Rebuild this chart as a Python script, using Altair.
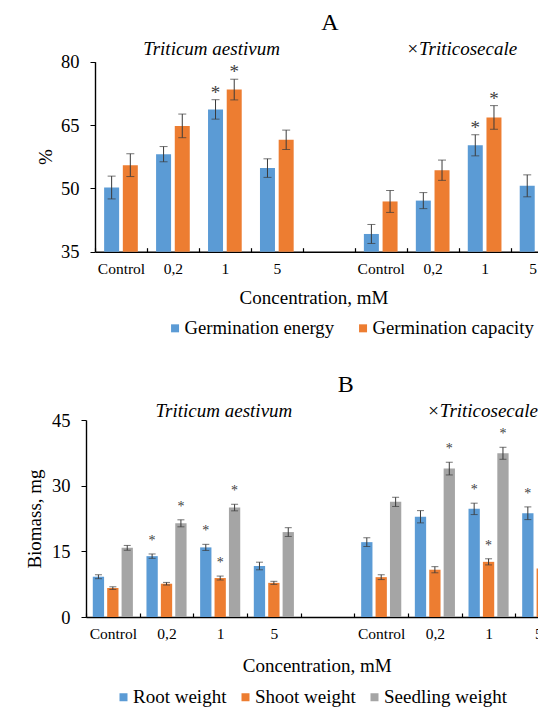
import json
import altair as alt
import pandas as pd

FONT = "Liberation Serif"

# x slots: 4 doses for each species with an empty slot between them
slot_keys = ["T:Control", "T:0,2", "T:1", "T:5", "G:", "S:Control", "S:0,2", "S:1", "S:5"]
slot_labels = [k.split(":")[1] for k in slot_keys]
doses = ["Control", "0,2", "1", "5"]
species = ["Triticum aestivum", "\u00d7Triticosecale"]
species_first_slot = ["T:Control", "S:Control"]

# ---------------- Panel A: germination (%) ----------------
germ_series = ["Germination energy", "Germination capacity"]
germ_colors = ["#5B9BD5", "#ED7D31"]

energy_ta = [50.2, 58.1, 68.7, 54.8]
energy_ta_err = [2.7, 1.8, 2.3, 2.2]
energy_ta_star = [0, 0, 1, 0]
capacity_ta = [55.5, 64.8, 73.4, 61.5]
capacity_ta_err = [2.7, 2.8, 2.45, 2.3]
capacity_ta_star = [0, 0, 1, 0]

energy_tr = [39.2, 47.1, 60.2, 50.6]
energy_tr_err = [2.25, 1.9, 2.5, 2.6]
energy_tr_star = [0, 0, 1, 0]
capacity_tr = [46.9, 54.3, 66.8, 58.0]
capacity_tr_err = [2.6, 2.4, 2.8, 2.4]
capacity_tr_star = [0, 0, 1, 0]

# ---------------- Panel B: biomass (mg) ----------------
bio_series = ["Root weight", "Shoot weight", "Seedling weight"]
bio_colors = ["#5B9BD5", "#ED7D31", "#A5A5A5"]

root_ta = [9.2, 13.9, 15.9, 11.65]
root_ta_err = [0.45, 0.5, 0.7, 0.87]
root_ta_star = [0, 1, 1, 0]
shoot_ta = [6.6, 7.6, 8.9, 7.8]
shoot_ta_err = [0.3, 0.3, 0.45, 0.35]
shoot_ta_star = [0, 0, 1, 0]
seedling_ta = [15.8, 21.4, 25.0, 19.4]
seedling_ta_err = [0.55, 0.8, 0.75, 1.0]
seedling_ta_star = [0, 1, 1, 0]

root_tr = [17.1, 22.9, 24.7, 23.7]
root_tr_err = [1.0, 1.4, 1.3, 1.45]
root_tr_star = [0, 0, 1, 1]
shoot_tr = [9.1, 10.8, 12.6, 11.1]
shoot_tr_err = [0.55, 0.7, 0.7, 0.6]
shoot_tr_star = [0, 0, 1, 0]
seedling_tr = [26.3, 33.9, 37.4]          # the "5" bar lies outside the cropped picture
seedling_tr_err = [1.05, 1.45, 1.37]
seedling_tr_star = [0, 1, 1]


def rows(prefix, series, vals, errs, stars):
    out = []
    for d, v, e, s in zip(doses, vals, errs, stars):
        out.append(dict(slot=f"{prefix}:{d}", series=series, value=v,
                        lo=v - e, hi=v + e, star=s))
    return out


df_a = pd.DataFrame(
    rows("T", germ_series[0], energy_ta, energy_ta_err, energy_ta_star)
    + rows("T", germ_series[1], capacity_ta, capacity_ta_err, capacity_ta_star)
    + rows("S", germ_series[0], energy_tr, energy_tr_err, energy_tr_star)
    + rows("S", germ_series[1], capacity_tr, capacity_tr_err, capacity_tr_star)
)
df_b = pd.DataFrame(
    rows("T", bio_series[0], root_ta, root_ta_err, root_ta_star)
    + rows("T", bio_series[1], shoot_ta, shoot_ta_err, shoot_ta_star)
    + rows("T", bio_series[2], seedling_ta, seedling_ta_err, seedling_ta_star)
    + rows("S", bio_series[0], root_tr, root_tr_err, root_tr_star)
    + rows("S", bio_series[1], shoot_tr, shoot_tr_err, shoot_tr_star)
    + rows("S", bio_series[2], seedling_tr, seedling_tr_err, seedling_tr_star)
)
df_species = pd.DataFrame({"label": species, "first": species_first_slot})

# ---------------- layout (pixels inside the 530 x 700 view) ----------------
W, H = 530, 700
ERR = "#3a3a3a"
STAR = "#404040"
KEYS = json.dumps(slot_keys)
NSLOT = len(slot_keys)


def panel(df, series, colors, ydom, yticks, ytitle, x0px, slot, ytop, ybot,
          bar_w, gap, ytitle_x, xtitle_x, xtitle_y, xlabel_pad, cap, star_size, star_dy,
          letter, letter_dx, letter_y, sub_dx, sub_y, leg_x, leg_y, leg_fs, colpad):
    n = len(series)
    start = (1 - (n * bar_w + (n - 1) * gap)) / 2
    ser = json.dumps(series)

    xscale = alt.Scale(domain=[0, NSLOT], range=[x0px, x0px + NSLOT * slot],
                       nice=False, zero=False)
    yscale = alt.Scale(domain=ydom, range=[ybot, ytop], nice=False, zero=False)

    main_xaxis = alt.Axis(
        orient="bottom", offset=ybot - H, title="Concentration, mM",
        values=list(range(NSLOT)), ticks=False, grid=False,
        labelExpr=f"{json.dumps(slot_labels)}[datum.value]",
        labelOffset=slot / 2, labelFlush=False, labelOverlap=False, labelAngle=0,
        labelAlign=alt.condition(f"datum.value == {NSLOT - 1}",
                                 alt.value("right"), alt.value("center")),
        labelPadding=xlabel_pad, labelBaseline="alphabetic", labelFontSize=15.5,
        titleX=xtitle_x, titleY=xtitle_y, titleBaseline="alphabetic",
        titleFontSize=19, domainWidth=1.4)
    tick_xaxis = alt.Axis(
        orient="bottom", offset=ybot - H - 4, title=None, values=list(range(NSLOT + 1)),
        domain=False, labels=False, ticks=True, tickSize=4, tickWidth=1.2, grid=False)
    yaxis = alt.Axis(orient="left", offset=-x0px, title=ytitle, values=yticks, grid=False,
                     tickSize=5, labelPadding=11, labelFontSize=18.5, labelFlush=False,
                     titleX=ytitle_x, titleBaseline="middle", titleFontSize=19,
                     domainWidth=1.4)

    def X(f, axis=None):
        return alt.X(f"{f}:Q", scale=xscale, axis=axis)

    def Y(f):
        return alt.Y(f"{f}:Q", scale=yscale, axis=yaxis)

    base = alt.Chart(df).transform_calculate(
        x0=f"indexof({KEYS}, datum.slot) + {start} + indexof({ser}, datum.series) * {bar_w + gap}"
    ).transform_calculate(
        x1=f"datum.x0 + {bar_w}", xc=f"datum.x0 + {bar_w / 2}"
    )
    bars = base.mark_bar().encode(
        x=X("x0", main_xaxis), x2="x1:Q", y=Y("value"), y2=alt.datum(ydom[0]),
        color=alt.Color("series:N",
                        scale=alt.Scale(domain=series, range=colors),
                        legend=alt.Legend(title=None, orient="none", direction="horizontal",
                                          legendX=leg_x, legendY=leg_y, symbolType="square",
                                          symbolSize=64, symbolStrokeWidth=0,
                                          labelFontSize=leg_fs, labelLimit=400,
                                          labelOffset=0, columnPadding=colpad)),
    )
    rule = base.mark_rule(color=ERR, strokeWidth=1).encode(
        x=X("xc", tick_xaxis), y=Y("lo"), y2="hi:Q")
    cap_lo = base.mark_tick(orient="horizontal", size=cap, thickness=1, color=ERR).encode(
        x=X("xc"), y=Y("lo"))
    cap_hi = base.mark_tick(orient="horizontal", size=cap, thickness=1, color=ERR).encode(
        x=X("xc"), y=Y("hi"))
    stars = base.mark_text(text="*", font=FONT, fontSize=star_size, fill=STAR,
                           baseline="alphabetic", dy=star_dy).transform_filter(
        "datum.star == 1").encode(x=X("xc"), y=Y("hi"))

    sp = alt.Chart(df_species).transform_calculate(
        pos=f"indexof({KEYS}, datum.first) + 2")
    sub_t = sp.transform_filter(f"datum.label == {json.dumps(species[0])}").mark_text(
        font=FONT, fontSize=19, fontStyle="italic", baseline="alphabetic", fill="black",
        dx=sub_dx[0]).encode(x=X("pos"), y=alt.value(sub_y), text="label:N")
    sub_s = sp.transform_filter(f"datum.label == {json.dumps(species[1])}").mark_text(
        font=FONT, fontSize=19, fontStyle="italic", baseline="alphabetic", fill="black",
        dx=sub_dx[1]).encode(x=X("pos"), y=alt.value(sub_y), text="label:N")
    ttl = alt.Chart(pd.DataFrame({"label": [letter], "slot": ["G:"]})).transform_calculate(
        pos=f"indexof({KEYS}, datum.slot) + 0.5").mark_text(
        font=FONT, fontSize=24, baseline="alphabetic", fill="black", dx=letter_dx).encode(
        x=X("pos"), y=alt.value(letter_y), text="label:N")

    return alt.layer(bars, rule, cap_lo, cap_hi, stars, sub_t, sub_s, ttl).resolve_axis(
        x="independent")


# panel A: plot from x=95, y 61.7..251.7 on the page (page margin 8)
chart_a = panel(df_a, germ_series, germ_colors, [35, 80], [35, 50, 65, 80], "%",
                87, 51.95, 53.7, 243.7, 0.2887, 0.0712, -50, 305.5, 51.6, 21.6, 8, 19, -1,
                "A", 1.2, 22, (12.6, 3.0), 47, 157.7, 310.5, 18.7, 19)
# panel B: plot from x=86, y 420..617 on the page
chart_b = panel(df_b, bio_series, bio_colors, [0, 45], [0, 15, 30, 45], "Biomass, mg",
                78, 53.675, 412, 609, 0.2105, 0.0578, -51.5, 308.7, 54.7, 21.3, 7, 14, -9,
                "B", 18.3, 383.7, (30.6, 20.8), 408.7, 106, 679.5, 19, 9)

chart = alt.layer(chart_a, chart_b).resolve_scale(
    x="independent", y="independent", color="independent"
).properties(
    width=W, height=H, padding=0, autosize=alt.AutoSizeParams(type="none")
).configure(font=FONT).configure_view(stroke=None).configure_axis(
    labelFont=FONT, titleFont=FONT, labelColor="black", titleColor="black",
    domainColor="black", tickColor="black", titleFontWeight="normal"
).configure_legend(labelFont=FONT, labelColor="black")

chart.save("out.html", embed_options={"renderer": "svg", "actions": False})
